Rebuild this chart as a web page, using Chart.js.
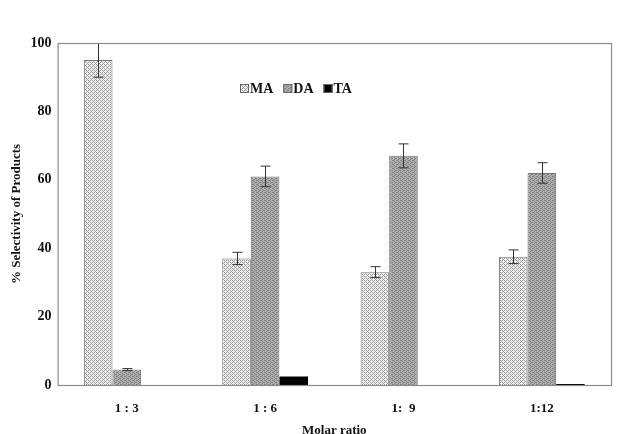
<!DOCTYPE html>
<html>
<head>
<meta charset="utf-8">
<script src="https://cdn.jsdelivr.net/npm/chart.js@4.4.0/dist/chart.umd.min.js"></script>
<style>
  html, body { margin: 0; padding: 0; background: #fff; }
  #wrap { width: 620px; height: 434px; position: relative; }
</style>
</head>
<body>
<div id="wrap"><canvas id="chart"></canvas></div>
<script>
// data
const ratios = ['1 : 3', '1 : 6', '1:  9', '1:12'];
const maValues = [95, 37, 33, 37.5];
const daValues = [4.5, 61, 67, 62];
const taValues = [0, 2.5, 0, 0.3];
const maErr = [5, 1.8, 1.6, 2];
const daErr = [0.3, 3, 3.5, 3];
const taErr = [0, 0, 0, 0];
const yTicks = [0, 20, 40, 60, 80, 100];

// fill patterns like the excel hatch
function makePattern(bg, dot, kind) {
  const c = document.createElement('canvas');
  c.width = 4; c.height = 4;
  const g = c.getContext('2d');
  g.fillStyle = bg;
  g.fillRect(0, 0, 4, 4);
  g.fillStyle = dot;
  if (kind === 'check') {
    g.fillRect(0, 0, 1, 1); g.fillRect(2, 2, 1, 1);
    g.fillRect(2, 0, 1, 1); g.fillRect(0, 2, 1, 1);
    g.fillRect(1, 1, 1, 1); g.fillRect(3, 3, 1, 1);
  } else {
    g.fillRect(0, 0, 1, 1); g.fillRect(2, 1, 1, 1);
    g.fillRect(0, 2, 1, 1); g.fillRect(2, 3, 1, 1);
    g.fillRect(1, 0, 1, 1); g.fillRect(3, 2, 1, 1);
  }
  return g.createPattern(c, 'repeat');
}
const maFill = makePattern('#f2f2f2', '#9a9a9a', 'check');
const daFill = makePattern('#b0b0b0', '#808080', 'fine');

const errorBars = {
  id: 'errorBars',
  afterDatasetsDraw(chart) {
    const ctx = chart.ctx, a = chart.chartArea, y = chart.scales.y;
    ctx.save();
    ctx.beginPath();
    ctx.rect(a.left, a.top + 1, a.right - a.left, a.bottom - a.top);
    ctx.clip();
    ctx.strokeStyle = '#333';
    ctx.lineWidth = 1;
    chart.data.datasets.forEach((ds, i) => {
      const meta = chart.getDatasetMeta(i);
      meta.data.forEach((bar, j) => {
        const e = ds.errors[j];
        if (!e) return;
        const v = ds.data[j];
        const top = y.getPixelForValue(v + e), bot = y.getPixelForValue(v - e);
        const x = Math.round(bar.x) + 0.5;
        ctx.beginPath();
        ctx.moveTo(x, top); ctx.lineTo(x, bot);
        ctx.moveTo(x - 5, top); ctx.lineTo(x + 5, top);
        ctx.moveTo(x - 5, bot); ctx.lineTo(x + 5, bot);
        ctx.stroke();
      });
    });
    ctx.restore();
  }
};

const frameAndLegend = {
  id: 'frameAndLegend',
  afterDraw(chart) {
    const ctx = chart.ctx, a = chart.chartArea;
    ctx.save();
    ctx.strokeStyle = '#8c8c8c';
    ctx.lineWidth = 1.2;
    ctx.strokeRect(a.left + 0.5, a.top + 0.5, a.right - a.left, a.bottom - a.top);
    // legend inside the plot
    ctx.font = 'bold 14px "Liberation Serif", "Times New Roman", serif';
    ctx.textBaseline = 'middle';
    let x = 240;
    const yy = 88;
    chart.data.datasets.forEach(ds => {
      ctx.fillStyle = ds.backgroundColor;
      ctx.fillRect(x, yy - 4, 9, 9);
      ctx.strokeStyle = '#666';
      ctx.lineWidth = 1;
      ctx.strokeRect(x + 0.5, yy - 3.5, 8, 8);
      ctx.fillStyle = '#111';
      ctx.fillText(ds.label, x + 10, yy + 1);
      x += 10 + ctx.measureText(ds.label).width + 10;
    });
    ctx.restore();
  }
};

const font = { family: '"Liberation Serif", "Times New Roman", serif', weight: 'bold', size: 13 };

new Chart(document.getElementById('chart'), {
  type: 'bar',
  data: {
    labels: ratios,
    datasets: [
      { label: 'MA', data: maValues, errors: maErr, backgroundColor: maFill, borderColor: '#777', borderWidth: 1 },
      { label: 'DA', data: daValues, errors: daErr, backgroundColor: daFill, borderColor: '#777', borderWidth: 1 },
      { label: 'TA', data: taValues, errors: taErr, backgroundColor: '#000', borderColor: '#000', borderWidth: 0 }
    ]
  },
  options: {
    responsive: true,
    maintainAspectRatio: false,
    animation: false,
    layout: { padding: { top: 43, right: 9, left: 9, bottom: -4 } },
    datasets: { bar: { categoryPercentage: 0.62, barPercentage: 1 } },
    plugins: {
      legend: { display: false },
      tooltip: { enabled: false }
    },
    scales: {
      x: {
        grid: { display: false, drawTicks: false },
        border: { display: false },
        ticks: { color: '#111', font: { ...font, lineHeight: 0.8 }, padding: 18 },
        title: { display: true, text: 'Molar ratio', color: '#111', font: font, padding: { top: -9, bottom: 0 } }
      },
      y: {
        min: 0, max: 100,
        afterBuildTicks: axis => { axis.ticks = yTicks.map(v => ({ value: v })); },
        grid: { display: false, drawTicks: false },
        border: { display: false },
        ticks: { color: '#111', font: { ...font, size: 14 }, padding: 6 },
        title: { display: true, text: '% Selectivity of Products', color: '#111', font: font, padding: { top: 0, bottom: 0 } }
      }
    }
  },
  plugins: [errorBars, frameAndLegend]
});
</script>
</body>
</html>
